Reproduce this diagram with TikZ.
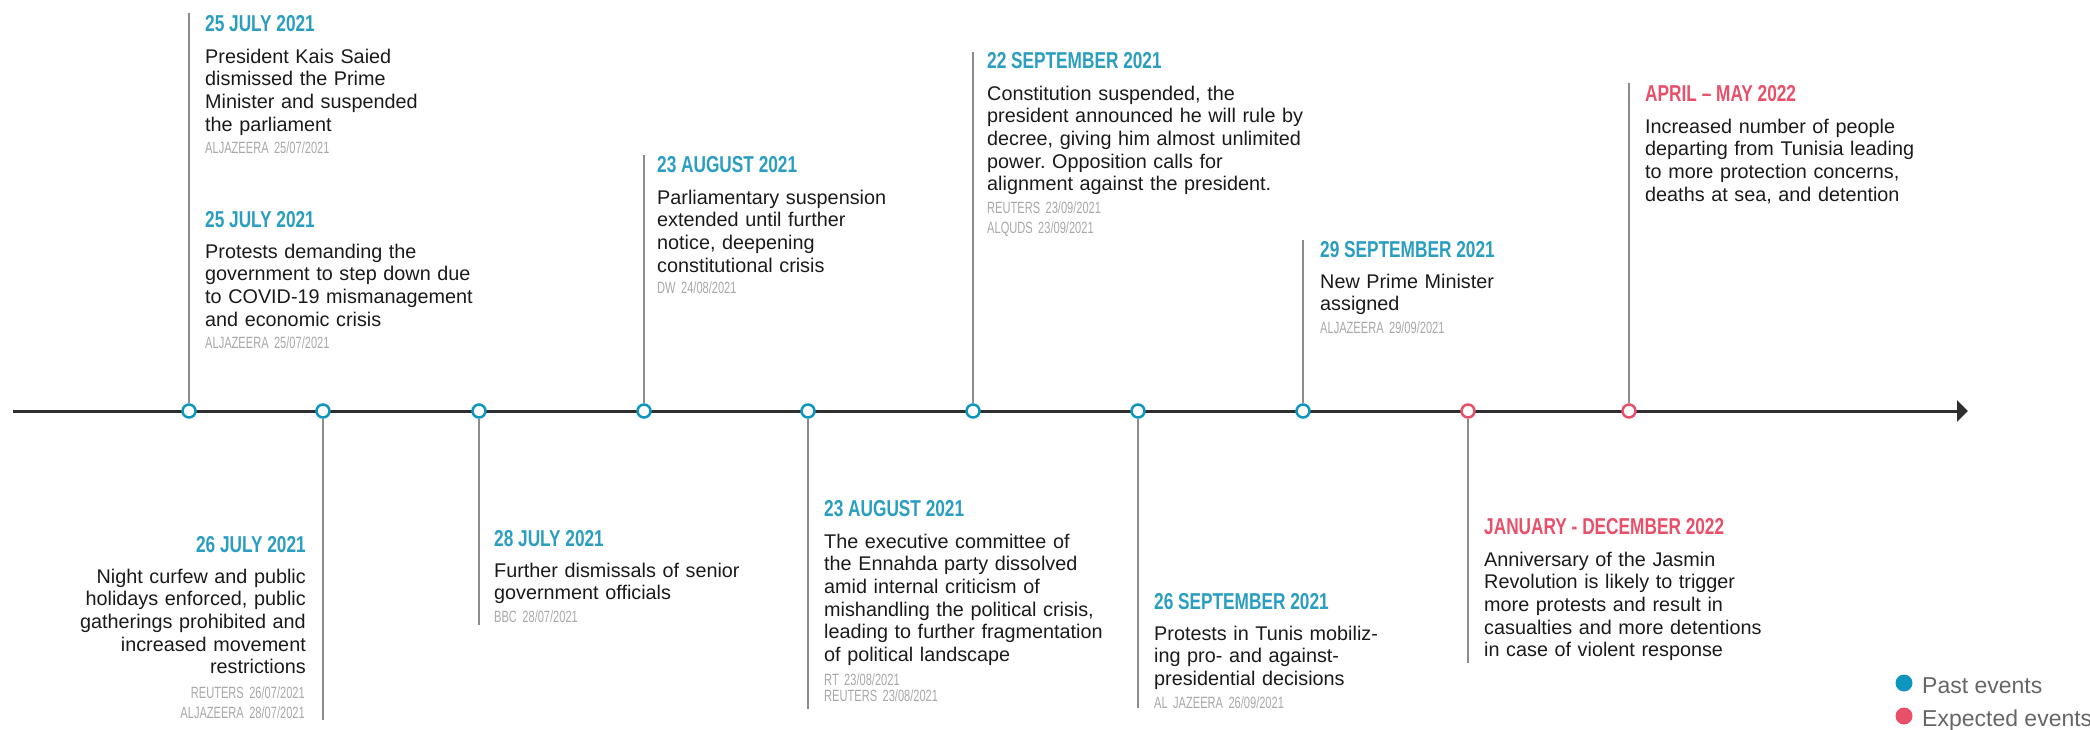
\documentclass[tikz,border=0pt]{standalone}
\usepackage{fontspec}
\setmainfont{Liberation Sans}
\newfontfamily\headfont{Liberation Sans}[FakeStretch=0.75]
\newfontfamily\srcfont{Liberation Sans}[FakeStretch=0.68]
\usetikzlibrary{arrows.meta}
\definecolor{pastblue}{HTML}{0E96BF}
\definecolor{headblue}{HTML}{2A9EC0}
\definecolor{nextred}{HTML}{E8506A}
\definecolor{axisgray}{HTML}{2E2E2E}
\definecolor{stemgray}{HTML}{8C8C8C}
\definecolor{srcgray}{HTML}{A8A8A8}
\definecolor{keygray}{HTML}{666666}
\definecolor{bodyblack}{HTML}{1A1A1A}
\frenchspacing

\begin{document}
\begin{tikzpicture}[x=1pt, y=-1pt,
  stemline/.style={stemgray, line width=1.3pt},
  eventdot/.style={circle, fill=white, line width=2.5pt, minimum size=13pt, inner sep=0pt},
  datehead/.style={anchor=base west, inner sep=0pt, text=headblue,
    font=\headfont\bfseries\fontsize{23}{28}\selectfont},
  nexthead/.style={datehead, text=nextred},
  eventtext/.style={anchor=base west, inner sep=0pt, text width=340pt, align=left,
    text=bodyblack, font=\fontsize{19.8}{22.7}\selectfont},
  srctext/.style={anchor=base west, inner sep=0pt, text width=300pt, align=left,
    text=srcgray, font={\srcfont\fontsize{16.3}{20.5}\selectfont\spaceskip=3.5pt\relax}},
  keydot/.style={circle, minimum size=17pt, inner sep=0pt},
  keytext/.style={anchor=base west, inner sep=0pt, text=keygray,
    font=\fontsize{23}{26}\selectfont}]

\useasboundingbox (0,0) rectangle (2090,729);

% Axis
\coordinate (tstart) at (13,411);
\coordinate (tend) at (1968,411);
\draw[axisgray, line width=3pt, -{Triangle[length=11pt,width=21pt]}] (tstart) -- (tend);

% Dots and stems
\foreach \i/\x/\y/\c in {1/189/13/pastblue, 2/323/720/pastblue, 3/479/625/pastblue,
    4/644/155/pastblue, 5/808/709/pastblue, 6/973/52/pastblue, 7/1138/708/pastblue,
    8/1303/240/pastblue, 9/1468/663/nextred, 10/1629/83/nextred} {
  \node[eventdot, draw=\c] (d\i) at (\x,411) {};
  \coordinate (t\i) at (\x,\y);
  \draw[stemline] (d\i) -- (t\i);
}

% 25 July (upper)
\node[datehead] (h1) at (205,31) {25 JULY 2021};
\node[eventtext] (b1) at (205,63) {President Kais Saied\\dismissed the Prime\\Minister and suspended\\the parliament};
\node[srctext] (s1) at (205,153) {ALJAZEERA 25/07/2021};

% 25 July (lower)
\node[datehead] (h1b) at (205,227) {25 JULY 2021};
\node[eventtext] (b1b) at (205,258) {Protests demanding the\\government to step down due\\to COVID-19 mismanagement\\and economic crisis};
\node[srctext] (s1b) at (205,348) {ALJAZEERA 25/07/2021};

% 26 July
\node[datehead, anchor=base east] (h2) at (306,552) {26 JULY 2021};
\node[eventtext, anchor=base east, align=right] (b2) at (306,583) {Night curfew and public\\holidays enforced, public\\gatherings prohibited and\\increased movement\\restrictions};
\node[srctext, anchor=base east, align=right] (s2) at (305,698) {REUTERS 26/07/2021\\ALJAZEERA 28/07/2021};

% 28 July
\node[datehead] (h3) at (494,546) {28 JULY 2021};
\node[eventtext] (b3) at (494,577) {Further dismissals of senior\\government officials};
\node[srctext] (s3) at (494,622) {BBC 28/07/2021};

% 23 August (upper)
\node[datehead] (h4) at (657,172) {23 AUGUST 2021};
\node[eventtext] (b4) at (657,204) {Parliamentary suspension\\extended until further\\notice, deepening\\constitutional crisis};
\node[srctext] (s4) at (657,293) {DW 24/08/2021};

% 23 August (lower)
\node[datehead] (h5) at (824,516) {23 AUGUST 2021};
\node[eventtext] (b5) at (824,548) {The executive committee of\\the Ennahda party dissolved\\amid internal criticism of\\mishandling the political crisis,\\leading to further fragmentation\\of political landscape};
\node[srctext] (s5) at (824,685) {RT 23/08/2021\\[-4.5pt]REUTERS 23/08/2021};

% 22 September
\node[datehead] (h6) at (987,68) {22 SEPTEMBER 2021};
\node[eventtext] (b6) at (987,100) {Constitution suspended, the\\president announced he will rule by\\decree, giving him almost unlimited\\power. Opposition calls for\\alignment against the president.};
\node[srctext] (s6) at (987,213) {REUTERS 23/09/2021\\ALQUDS 23/09/2021};

% 26 September
\node[datehead] (h7) at (1154,609) {26 SEPTEMBER 2021};
\node[eventtext] (b7) at (1154,640) {Protests in Tunis mobiliz-\\ing pro- and against-\\presidential decisions};
\node[srctext] (s7) at (1154,708) {AL JAZEERA 26/09/2021};

% 29 September
\node[datehead] (h8) at (1320,257) {29 SEPTEMBER 2021};
\node[eventtext] (b8) at (1320,288) {New Prime Minister\\assigned};
\node[srctext] (s8) at (1320,333) {ALJAZEERA 29/09/2021};

% Expected events
\node[nexthead] (h9) at (1484,534) {JANUARY - DECEMBER 2022};
\node[eventtext] (b9) at (1484,566) {Anniversary of the Jasmin\\Revolution is likely to trigger\\more protests and result in\\casualties and more detentions\\in case of violent response};

\node[nexthead] (h10) at (1645,101) {APRIL – MAY 2022};
\node[eventtext] (b10) at (1645,133) {Increased number of people\\departing from Tunisia leading\\to more protection concerns,\\deaths at sea, and detention};

% Legend
\node[keydot, fill=pastblue] (k1) at (1904,683) {};
\node[keytext] (k1t) at (1922,693) {Past events};
\node[keydot, fill=nextred] (k2) at (1904,716) {};
\node[keytext] (k2t) at (1922,726) {Expected events};

\end{tikzpicture}
\end{document}
